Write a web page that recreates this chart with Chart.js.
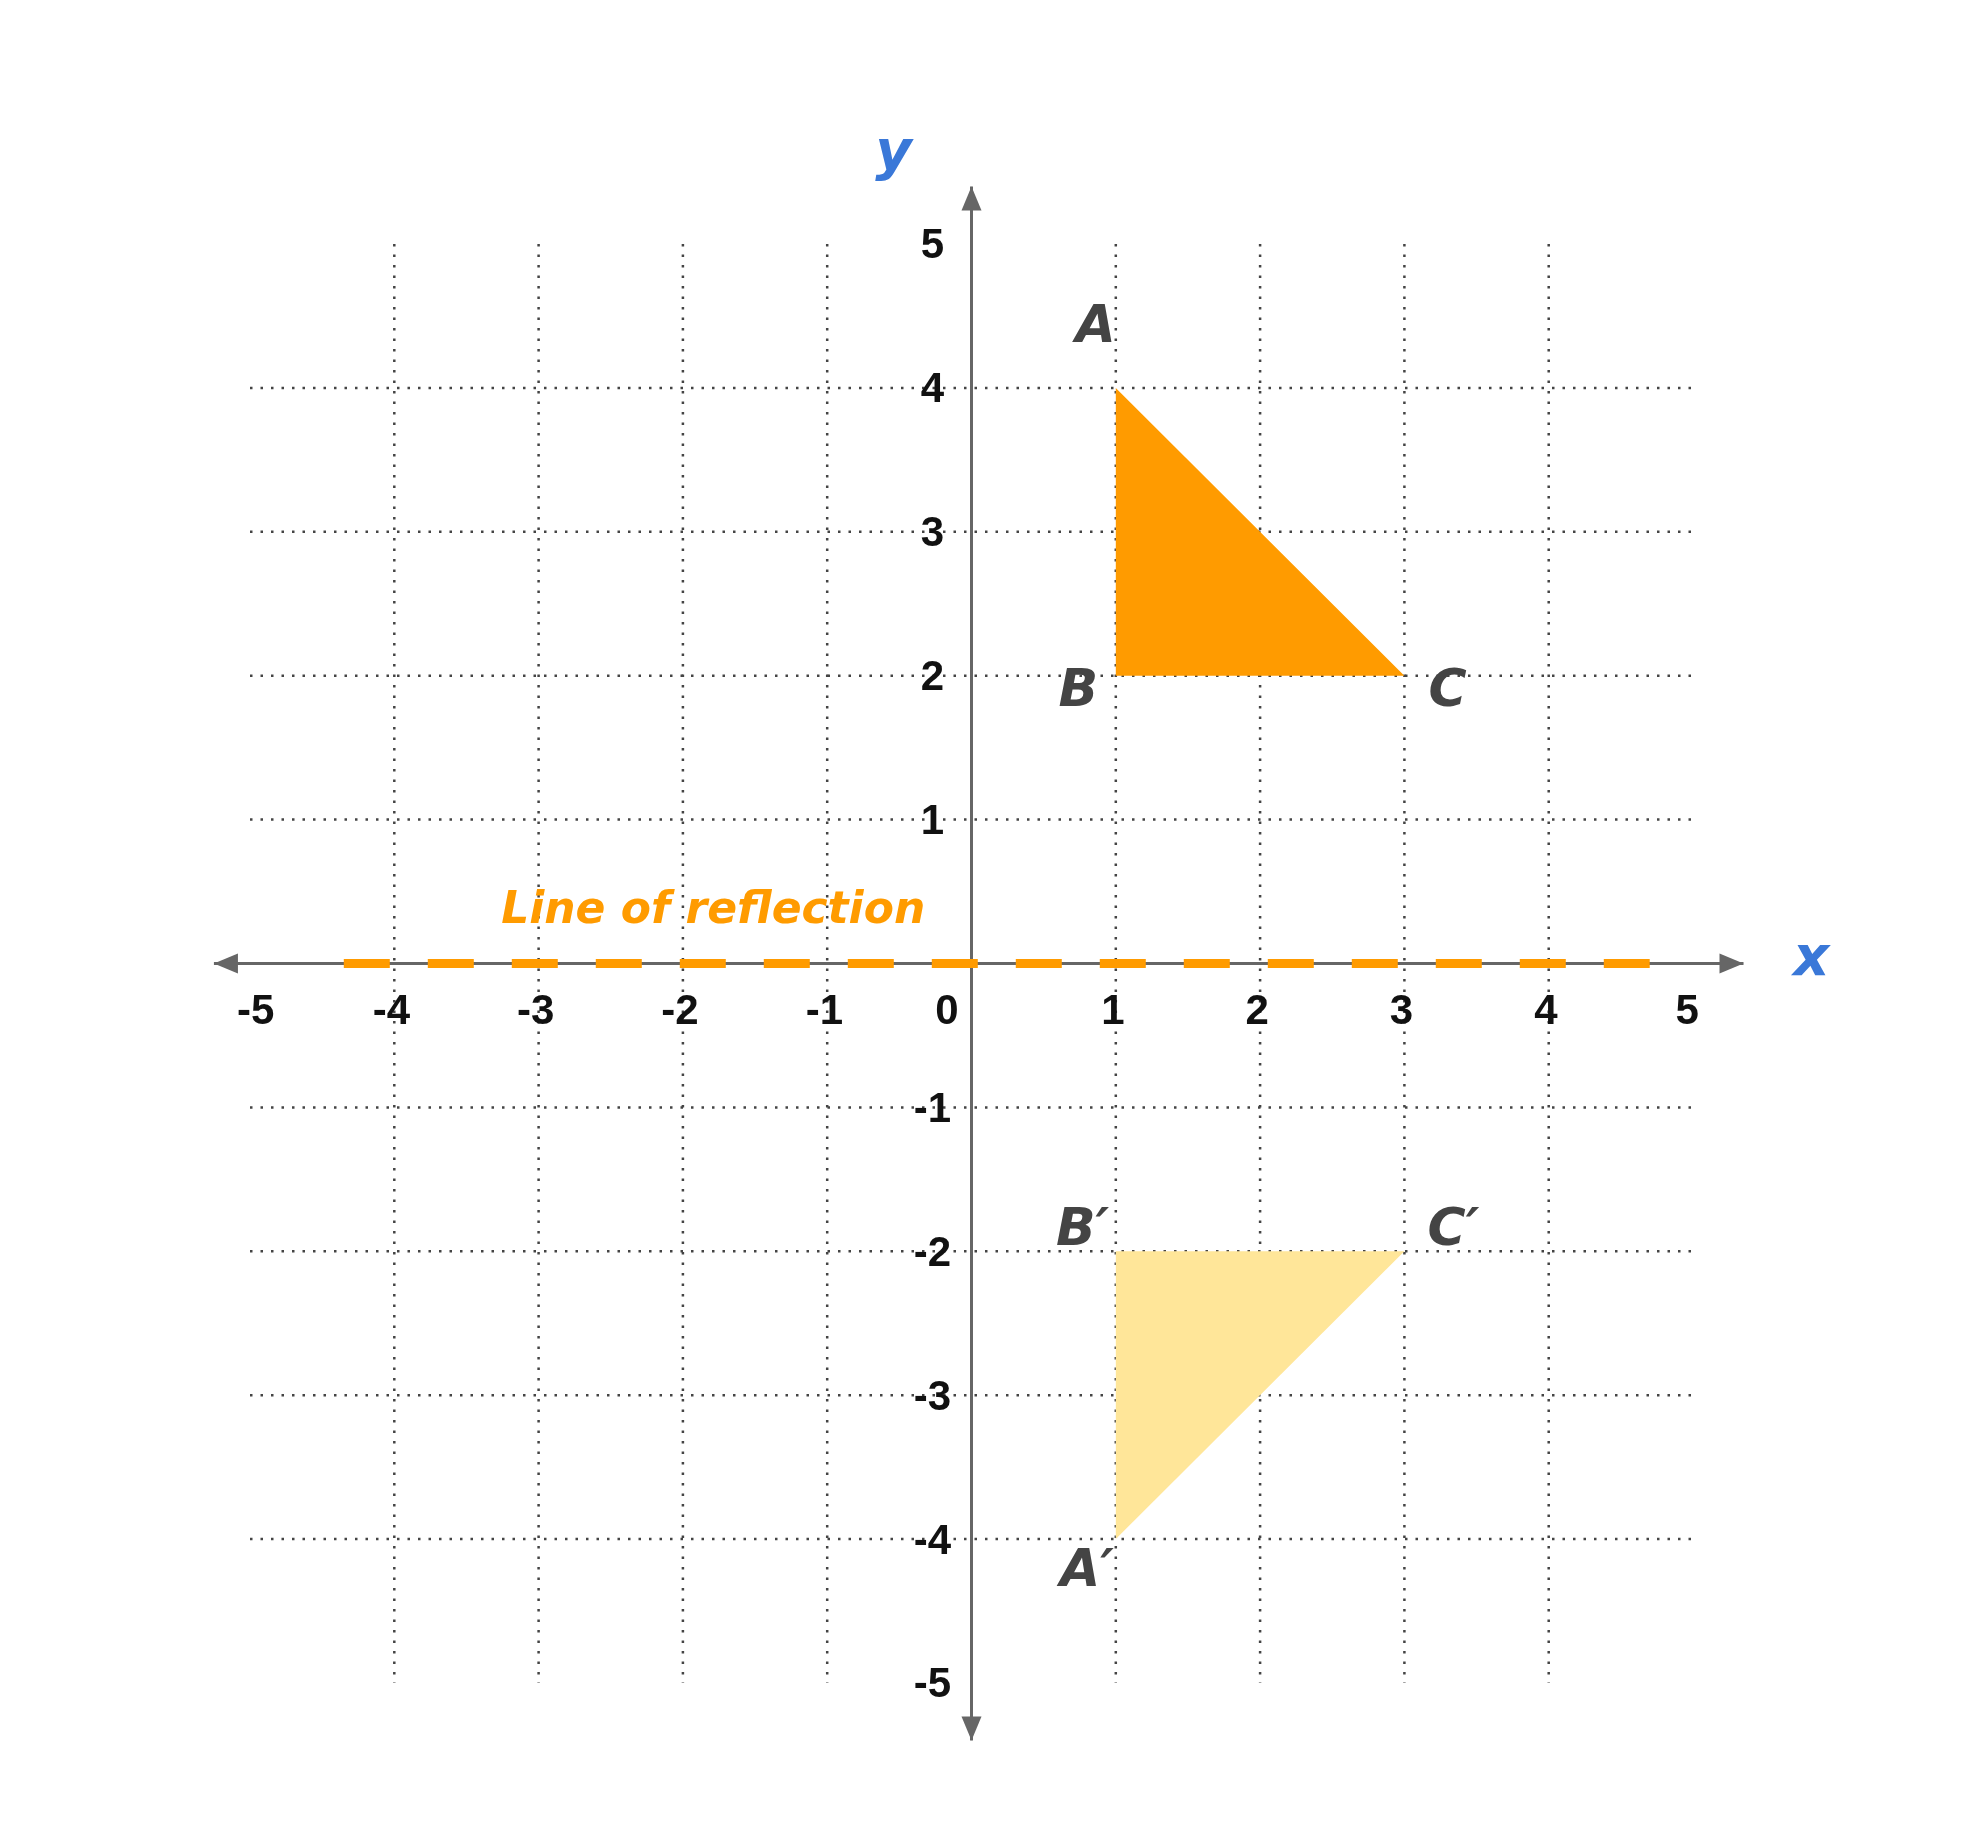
<!DOCTYPE html>
<html>
<head>
<meta charset="utf-8">
<script src="https://cdn.jsdelivr.net/npm/chart.js@4"></script>
<style>
  html, body { margin: 0; padding: 0; background: #ffffff; }
  #wrap { width: 1980px; height: 1836px; }
</style>
</head>
<body>
<div id="wrap"><canvas id="grafico"></canvas></div>
<script>
const trianguloABC = [{ x: 1, y: 4 }, { x: 1, y: 2 }, { x: 3, y: 2 }, { x: 1, y: 4 }];
const trianguloRefletido = [{ x: 1, y: -4 }, { x: 1, y: -2 }, { x: 3, y: -2 }, { x: 1, y: -4 }];
const linhaReflexao = [{ x: -4.35, y: 0 }, { x: 4.7, y: 0 }];
const ticksX = [-5, -4, -3, -2, -1, 0, 1, 2, 3, 4, 5];
const ticksY = [5, 4, 3, 2, 1, -1, -2, -3, -4, -5];
const rotulos = [
  { texto: "A", x: 0.86, y: 4.41 },
  { texto: "B", x: 0.74, y: 1.88 },
  { texto: "C", x: 3.3, y: 1.88 },
  { texto: "B′", x: 0.77, y: -1.86 },
  { texto: "C′", x: 3.34, y: -1.86 },
  { texto: "A′", x: 0.8, y: -4.23 }
];

const corLaranja = "#FF9B00";
const corClara = "#FFE699";
const corEixo = "#666666";

const planoPlugin = {
  id: "plano",
  beforeDatasetsDraw(chart) {
    const { ctx, scales: { x, y } } = chart;
    ctx.save();
    ctx.strokeStyle = "#444444";
    ctx.lineWidth = 2.5;
    ctx.setLineDash([2.5, 8]);
    for (let v = -4; v <= 4; v++) {
      if (v === 0) continue;
      ctx.beginPath();
      ctx.moveTo(x.getPixelForValue(v), y.getPixelForValue(5));
      ctx.lineTo(x.getPixelForValue(v), y.getPixelForValue(-5));
      ctx.stroke();
      ctx.beginPath();
      ctx.moveTo(x.getPixelForValue(-5), y.getPixelForValue(v));
      ctx.lineTo(x.getPixelForValue(5), y.getPixelForValue(v));
      ctx.stroke();
    }
    ctx.setLineDash([]);
    ctx.strokeStyle = corEixo;
    ctx.fillStyle = corEixo;
    ctx.lineWidth = 3;
    const x0 = x.getPixelForValue(0), y0 = y.getPixelForValue(0);
    const xa = x.getPixelForValue(-5.25), xb = x.getPixelForValue(5.35);
    const ya = y.getPixelForValue(5.4), yb = y.getPixelForValue(-5.4);
    ctx.beginPath(); ctx.moveTo(xa, y0); ctx.lineTo(xb, y0); ctx.stroke();
    ctx.beginPath(); ctx.moveTo(x0, ya); ctx.lineTo(x0, yb); ctx.stroke();
    const seta = (px, py, ang) => {
      ctx.save(); ctx.translate(px, py); ctx.rotate(ang);
      ctx.beginPath(); ctx.moveTo(0, 0); ctx.lineTo(-24, -10); ctx.lineTo(-24, 10); ctx.closePath(); ctx.fill();
      ctx.restore();
    };
    seta(xb, y0, 0); seta(xa, y0, Math.PI);
    seta(x0, ya, -Math.PI / 2); seta(x0, yb, Math.PI / 2);

    ctx.fillStyle = "#111111";
    ctx.font = "bold 42px 'Liberation Sans', Arial, sans-serif";
    ctx.textAlign = "center";
    ctx.textBaseline = "middle";
    ticksX.forEach(v => {
      const dx = v === 0 ? -0.17 : (v === -5 ? 0.04 : (v === 5 ? -0.04 : -0.02));
      ctx.fillText(String(v), x.getPixelForValue(v + dx), y.getPixelForValue(-0.34));
    });
    ticksY.forEach(v => {
      ctx.fillText(String(v), x.getPixelForValue(-0.27), y.getPixelForValue(v - 0.02));
    });
    ctx.restore();
  },
  afterDatasetsDraw(chart) {
    const { ctx, scales: { x, y } } = chart;
    ctx.save();
    ctx.textAlign = "center";
    ctx.textBaseline = "middle";
    ctx.fillStyle = "#444444";
    ctx.font = "italic bold 52px 'DejaVu Sans', sans-serif";
    rotulos.forEach(r => ctx.fillText(r.texto, x.getPixelForValue(r.x), y.getPixelForValue(r.y)));
    ctx.fillStyle = "#3A78D8";
    ctx.font = "italic bold 56px 'DejaVu Sans', sans-serif";
    ctx.fillText("x", x.getPixelForValue(5.82), y.getPixelForValue(0.02));
    ctx.fillText("y", x.getPixelForValue(-0.54), y.getPixelForValue(5.62));
    ctx.fillStyle = corLaranja;
    ctx.font = "italic bold 44px 'DejaVu Sans', sans-serif";
    ctx.fillText("Line of reflection", x.getPixelForValue(-1.79), y.getPixelForValue(0.36));
    ctx.restore();
  }
};

new Chart(document.getElementById("grafico"), {
  type: "scatter",
  data: {
    datasets: [
      {
        label: "ABC",
        data: trianguloABC,
        showLine: true,
        fill: "shape",
        borderWidth: 0,
        borderColor: corLaranja,
        backgroundColor: corLaranja,
        pointRadius: 0,
        tension: 0
      },
      {
        label: "A'B'C'",
        data: trianguloRefletido,
        showLine: true,
        fill: "shape",
        borderWidth: 0,
        borderColor: corClara,
        backgroundColor: corClara,
        pointRadius: 0,
        tension: 0
      },
      {
        label: "Reflexão",
        data: linhaReflexao,
        showLine: true,
        fill: false,
        borderWidth: 9,
        borderColor: corLaranja,
        borderDash: [46, 38],
        borderCapStyle: "butt",
        pointRadius: 0
      }
    ]
  },
  options: {
    responsive: true,
    maintainAspectRatio: false,
    animation: false,
    layout: { padding: { left: 250, right: 287, top: 244, bottom: 153 } },
    plugins: { legend: { display: false }, tooltip: { enabled: false } },
    scales: {
      x: { type: "linear", min: -5, max: 5, display: false },
      y: { type: "linear", min: -5, max: 5, display: false }
    }
  },
  plugins: [planoPlugin]
});
</script>
</body>
</html>
